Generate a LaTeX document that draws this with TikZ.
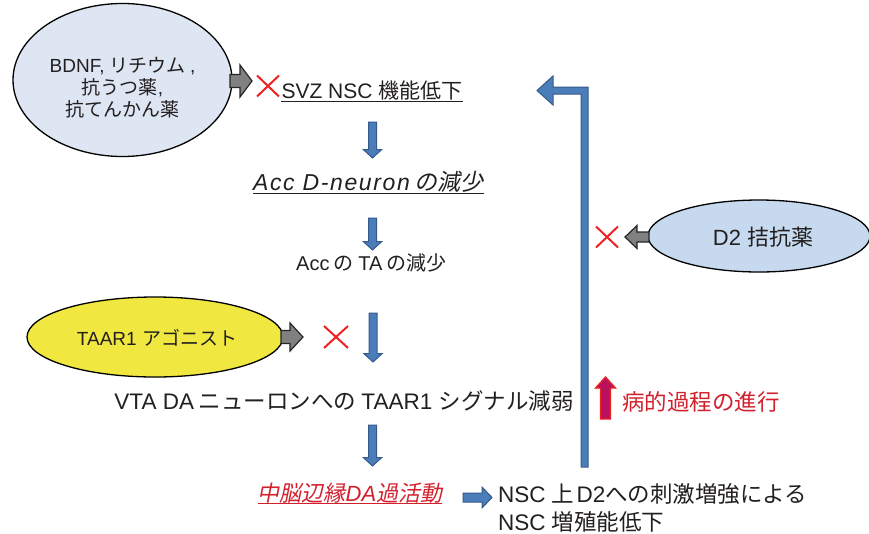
\documentclass[tikz,border=0pt]{standalone}
\usepackage{fontspec}
\setmainfont{Liberation Sans}
\newfontfamily\jp{Noto Sans CJK JP}
\newfontfamily\jpit[FakeSlant=0.2]{Noto Sans CJK JP}
\usetikzlibrary{shapes.geometric,shapes.misc}
\definecolor{txt}{HTML}{231F20}
\definecolor{bfill}{RGB}{74,125,186}
\definecolor{bline}{RGB}{52,90,140}
\definecolor{gfill}{RGB}{128,128,128}
\definecolor{xred}{RGB}{236,34,36}
\definecolor{tred}{RGB}{210,32,44}
\definecolor{crim}{RGB}{184,18,94}
\definecolor{ellA}{RGB}{221,230,242}
\definecolor{ellB}{RGB}{198,217,238}
\definecolor{ellC}{RGB}{240,232,64}
\newcommand\setfs[1]{\fontsize{#1}{#1}\selectfont}
\newcommand\js{\hspace{0.22em}}
\newcommand\bdown[3]{\draw[bluearr] ({#1-4},#2) -- ({#1+4},#2) -- ({#1+4},{#3-8.5}) -- ({#1+9.25},{#3-8.5}) -- (#1,#3) -- ({#1-9.25},{#3-8.5}) -- ({#1-4},{#3-8.5}) -- cycle;}
\begin{document}
\begin{tikzpicture}[x=1pt,y=-1pt,
  ell/.style={ellipse, draw=black, line width=1.3pt, inner sep=0},
  lbl/.style={text=txt, inner sep=0, anchor=base},
  xmark/.style={cross out, draw=xred, line width=2pt, minimum width=20pt, minimum height=19pt, inner sep=0},
  bluearr/.style={fill=bfill, draw=bline, line width=1pt, line join=miter},
  grayarr/.style={fill=gfill, draw=black!85, line width=1.2pt, line join=miter},
  redarr/.style={fill=crim, draw=xred, line width=1.3pt, line join=miter},
  uline/.style={line width=0.9pt}]
\useasboundingbox (0,0) rectangle (869,533);

% ellipses
\node[ell, fill=ellA, minimum width=219pt, minimum height=153pt] (bdnf) at (122.5,80) {};
\node[ell, fill=ellC, minimum width=256pt, minimum height=80pt] (taar) at (155,337) {};
\node[ell, fill=ellB, minimum width=222pt, minimum height=72pt] (d2) at (759,236) {};

% ellipse texts
\node[lbl, font=\setfs{19}] (b1) at (122.5,72) {BDNF, {\jp リチウム}\js,};
\node[lbl, font=\setfs{19}] (b2) at (122.5,94) {{\jp 抗うつ薬},};
\node[lbl, font=\setfs{19}] (b3) at (122.5,116) {{\jp 抗てんかん薬}};
\node[lbl, font=\setfs{19}] (taart) at (157,345) {TAAR1 {\jp アゴニスト}};
\node[lbl, font=\setfs{22}] (d2t) at (763,245) {D2 {\jp 拮抗薬}};

% main texts
\node[lbl, font=\setfs{21}] (svz) at (372,98) {SVZ NSC {\jp 機能低下}};
\node[lbl, font=\setfs{23}\itshape] (accd) at (368.5,190) {{\addfontfeature{LetterSpace=7}Acc D-neuron}\js{\upshape\jpit の減少}};
\node[lbl, font=\setfs{20}] (accta) at (371.5,270) {Acc\js{\jp の}\js TA\js{\jp の減少}};
\node[lbl, font=\setfs{22.5}] (vta) at (344,409) {VTA DA\js{\jp ニューロンへの}\js TAAR1 {\jp シグナル減弱}};
\node[lbl, font=\setfs{22}, text=tred] (mdl) at (350,501) {{\jpit 中脳辺縁}{\itshape DA}{\jpit 過活動}};
\node[lbl, anchor=base west, font=\setfs{22.5}] (nsc1) at (498,502) {NSC {\jp 上}\hspace{0.1em}D2{\jp への刺激増強による}};
\node[lbl, anchor=base west, font=\setfs{22.5}] (nsc2) at (498,530) {NSC {\jp 増殖能低下}};
\node[lbl, font=\setfs{22.5}, text=tred] (prog) at (701,410) {{\jp 病的過程の進行}};

% underlines
\draw[uline, draw=txt] ([yshift=-3pt]svz.base west) -- ([yshift=-3pt]svz.base east);
\draw[uline, draw=txt] ([yshift=-3.5pt]accd.base west) -- ([yshift=-3.5pt]accd.base east);
\draw[uline, draw=tred] ([yshift=-2.5pt]mdl.base west) -- ([yshift=-2.5pt]mdl.base east);

% red crosses
\node[xmark] (x1) at (268,86) {};
\node[xmark, minimum width=22pt, minimum height=20pt] (x2) at (336,337) {};
\node[xmark] (x3) at (607,237) {};

% gray block arrows
\draw[grayarr] (230,74.5) -- (240,74.5) -- (240,65) -- (252,81) -- (240,97) -- (240,87.5) -- (230,87.5) -- cycle;
\draw[grayarr] (281,330.5) -- (290,330.5) -- (290,323) -- (303,337) -- (290,351) -- (290,343.5) -- (281,343.5) -- cycle;
\draw[grayarr] (649,232) -- (637,232) -- (637,225.5) -- (625,237) -- (637,248.5) -- (637,242) -- (649,242) -- cycle;

% blue down arrows
\bdown{372.5}{122}{158}
\bdown{372.5}{218}{250}
\bdown{373}{313}{362}
\bdown{372.5}{425}{466}

% blue right arrow
\draw[bluearr] (463,493) -- (482,493) -- (482,487) -- (492,497.5) -- (482,508) -- (482,502) -- (463,502) -- cycle;

% elbow feedback arrow
\draw[bluearr] (588,467) -- (588,87) -- (553,87) -- (553,76) -- (537,90.5) -- (553,105) -- (553,94) -- (581,94) -- (581,467) -- cycle;

% red up arrow
\draw[redarr] (600.5,419) -- (600.5,388) -- (595.5,388) -- (605.5,377) -- (615.5,388) -- (610.5,388) -- (610.5,419) -- cycle;
\end{tikzpicture}
\end{document}
